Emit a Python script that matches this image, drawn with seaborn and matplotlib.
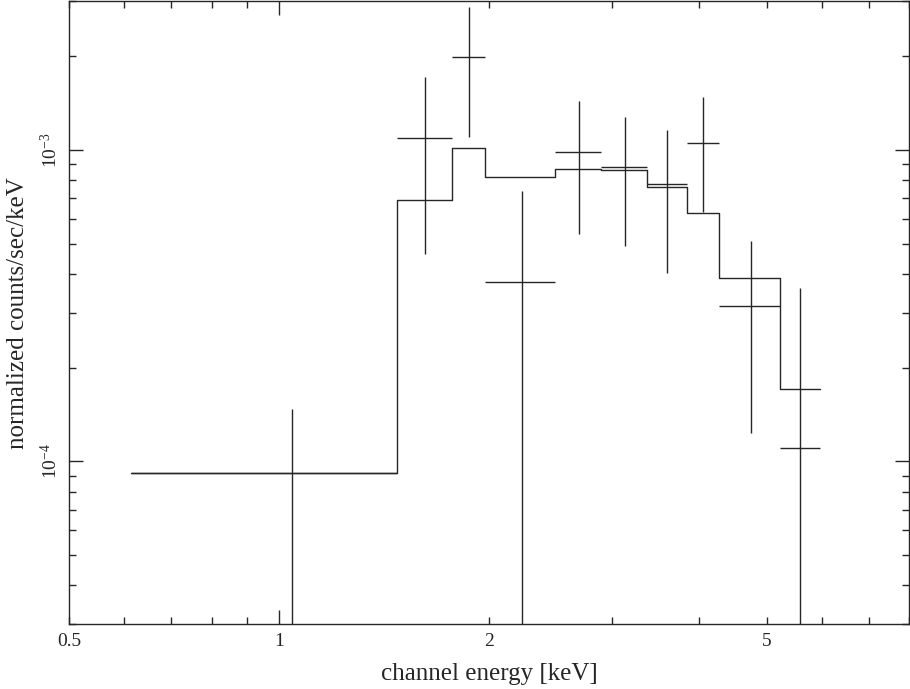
import numpy as np
import pandas as pd
import seaborn as sns
import matplotlib
matplotlib.use("Agg")
import matplotlib.pyplot as plt
from matplotlib.ticker import LogLocator, FuncFormatter, NullFormatter

# spectral bins (keV)
bin_lo = [0.614, 1.476, 1.77, 1.974, 2.484, 2.891, 3.363, 3.843, 4.265, 5.216]
bin_hi = [1.476, 1.77, 1.974, 2.484, 2.891, 3.363, 3.843, 4.265, 5.216, 5.97]
energy = [1.043, 1.621, 1.870, 2.229, 2.69, 3.127, 3.60, 4.048, 4.74, 5.585]

# data points (counts/sec/keV) with error bar ends
rate = [9.2e-5, 1.087e-3, 1.988e-3, 3.77e-4, 9.80e-4, 8.77e-4, 7.79e-4, 1.053e-3, 3.16e-4, 1.10e-4]
rate_up = [1.476e-4, 1.71e-3, 2.88e-3, 7.37e-4, 1.43e-3, 1.27e-3, 1.156e-3, 1.48e-3, 5.09e-4, 3.59e-4]
rate_dn = [1e-5, 4.63e-4, 1.10e-3, 1e-5, 5.36e-4, 4.90e-4, 4.01e-4, 6.29e-4, 1.233e-4, 1e-5]

# folded model, one value per bin
model = [9.2e-5, 6.91e-4, 1.01e-3, 8.15e-4, 8.69e-4, 8.58e-4, 7.59e-4, 6.26e-4, 3.87e-4, 1.707e-4]

sns.set_theme(style="ticks")
plt.rcParams["font.family"] = ["Liberation Serif", "DejaVu Serif"]
plt.rcParams["mathtext.fontset"] = "stix"

ink = "#262626"

fig, ax = plt.subplots(figsize=(9.1, 6.89), dpi=100)
fig.subplots_adjust(left=0.076, right=0.999, top=0.9985, bottom=0.094)

# model as a step line
edges = bin_lo + [bin_hi[-1]]
model_df = pd.DataFrame({"energy": edges, "model": model + [model[-1]]})
sns.lineplot(data=model_df, x="energy", y="model", drawstyle="steps-post",
             color=ink, linewidth=1.0, estimator=None, ax=ax)

# data crosses
df = pd.DataFrame({"energy": energy, "lo": bin_lo, "hi": bin_hi,
                   "rate": rate, "up": rate_up, "dn": rate_dn})
xerr = np.vstack([df["energy"] - df["lo"], df["hi"] - df["energy"]])
yerr = np.vstack([df["rate"] - df["dn"], df["up"] - df["rate"]])
ax.errorbar(df["energy"], df["rate"], xerr=xerr, yerr=yerr, fmt="none",
            ecolor=ink, elinewidth=1.0, capsize=0)

ax.set_xscale("log")
ax.set_yscale("log")
ax.set_xlim(0.5, 8.0)
ax.set_ylim(3e-5, 3e-3)

# ticks: labelled minor ticks at 0.5, 2, 5
ax.xaxis.set_major_locator(LogLocator(base=10, subs=[1.0]))
ax.xaxis.set_minor_locator(LogLocator(base=10, subs=np.arange(2, 10)))
ax.xaxis.set_major_formatter(FuncFormatter(lambda v, _: "%g" % v))
minor_lab = {0.5: "0.5", 2.0: "2", 5.0: "5"}
ax.xaxis.set_minor_formatter(FuncFormatter(lambda v, _: minor_lab.get(round(v, 3), "")))
ax.yaxis.set_minor_formatter(NullFormatter())

ax.tick_params(which="both", direction="in", top=True, right=True,
               color=ink, labelcolor=ink, labelsize=14, width=1.0)
ax.tick_params(which="major", length=10, pad=6)
ax.tick_params(which="minor", length=5, pad=6)
ax.tick_params(axis="y", which="major", labelrotation=90)
for lab in ax.get_yticklabels():
    lab.set_va("center")

for sp in ax.spines.values():
    sp.set_color(ink)
    sp.set_linewidth(1.0)

ax.set_xlabel("channel energy [keV]", fontsize=18, color=ink, labelpad=10)
ax.set_ylabel("normalized counts/sec/keV", fontsize=18, color=ink, labelpad=8)

fig.savefig("out.png", dpi=100)
